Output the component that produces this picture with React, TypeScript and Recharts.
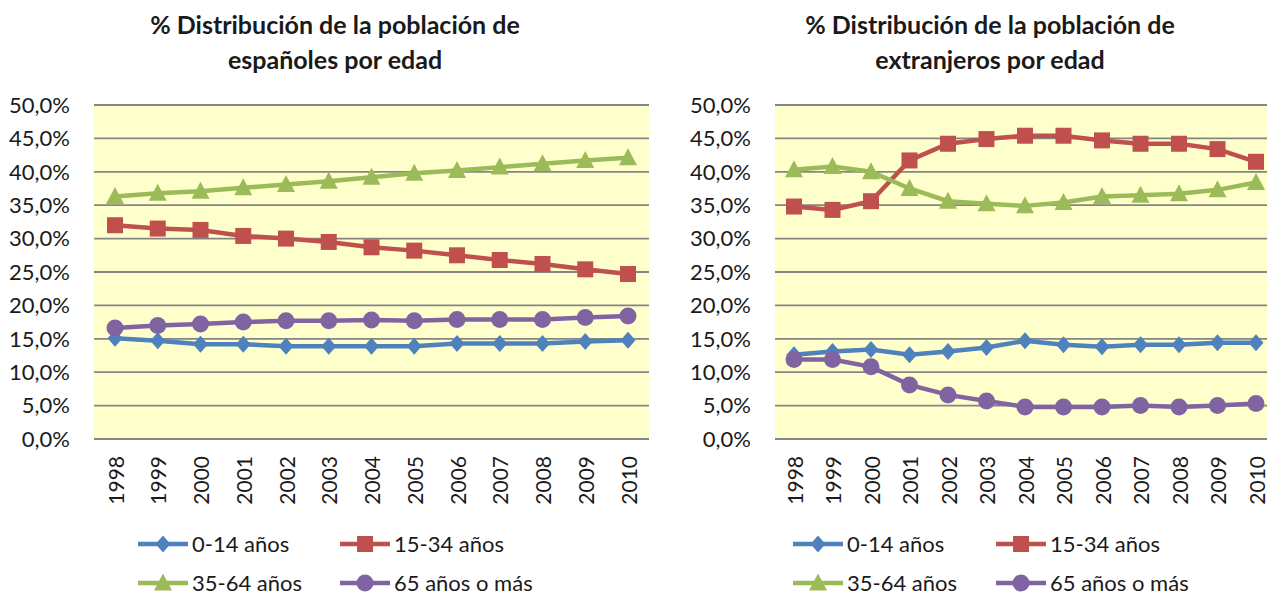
import { LineChart, Line, XAxis, YAxis, CartesianGrid } from 'recharts';

const years = ['1998', '1999', '2000', '2001', '2002', '2003', '2004', '2005', '2006', '2007', '2008', '2009', '2010'];
const yTicks = [0, 5, 10, 15, 20, 25, 30, 35, 40, 45, 50];

// españoles
const esp0014 = [15.1, 14.7, 14.2, 14.2, 13.9, 13.9, 13.9, 13.9, 14.3, 14.3, 14.3, 14.6, 14.8];
const esp1534 = [32.0, 31.5, 31.3, 30.4, 30.0, 29.5, 28.7, 28.2, 27.5, 26.8, 26.2, 25.4, 24.7];
const esp3564 = [36.3, 36.8, 37.1, 37.6, 38.1, 38.6, 39.2, 39.8, 40.2, 40.7, 41.2, 41.7, 42.1];
const esp65 = [16.6, 17.0, 17.2, 17.5, 17.7, 17.7, 17.8, 17.7, 17.9, 17.9, 17.9, 18.2, 18.4];

// extranjeros
const ext0014 = [12.6, 13.1, 13.4, 12.6, 13.1, 13.7, 14.7, 14.1, 13.8, 14.1, 14.1, 14.4, 14.4];
const ext1534 = [34.8, 34.3, 35.6, 41.7, 44.2, 44.9, 45.4, 45.4, 44.7, 44.2, 44.2, 43.4, 41.5];
const ext3564 = [40.3, 40.8, 40.0, 37.5, 35.6, 35.2, 34.9, 35.4, 36.3, 36.5, 36.7, 37.3, 38.4];
const ext65 = [11.9, 11.9, 10.8, 8.1, 6.6, 5.7, 4.8, 4.8, 4.8, 5.0, 4.8, 5.0, 5.3];

const seriesNames = ['0-14 años', '15-34 años', '35-64 años', '65 años o más'];
const seriesColors = ['#4F81BD', '#C0504D', '#9BBB59', '#8064A2'];
const seriesShapes = ['diamond', 'square', 'triangle', 'circle'];

const FONT = 'Lato, "Noto Sans", sans-serif';
const TEXT = '#1a1a1a';

const buildRows = (cols: number[][]) =>
  years.map((year, i) => ({ year, s0: cols[0][i], s1: cols[1][i], s2: cols[2][i], s3: cols[3][i] }));

const espRows = buildRows([esp0014, esp1534, esp3564, esp65]);
const extRows = buildRows([ext0014, ext1534, ext3564, ext65]);

function Marker({ cx, cy, shape, color }: { cx: number; cy: number; shape: string; color: string }) {
  if (shape === 'diamond') {
    return <polygon points={`${cx},${cy - 8.5} ${cx + 7.5},${cy} ${cx},${cy + 8.5} ${cx - 7.5},${cy}`} fill={color} />;
  }
  if (shape === 'square') {
    return <rect x={cx - 8} y={cy - 8} width={16} height={16} fill={color} />;
  }
  if (shape === 'triangle') {
    return <polygon points={`${cx},${cy - 9.5} ${cx + 9},${cy + 7.5} ${cx - 9},${cy + 7.5}`} fill={color} />;
  }
  return <circle cx={cx} cy={cy} r={8.5} fill={color} />;
}

function YearTick({ x, y, payload }: any) {
  return (
    <text
      transform={`translate(${x},${y + 17}) rotate(-90)`}
      textAnchor="end"
      dominantBaseline="central"
      fontFamily={FONT}
      fontSize={21}
      fill={TEXT}
    >
      {payload.value}
    </text>
  );
}

const pct = (v: number) => `${v.toFixed(1).replace('.', ',')}%`;

function LegendBox({ left, col2 }: { left: number; col2: number }) {
  const rows = [[0, 1], [2, 3]];
  const rowHeights = [42, 35];
  return (
    <div style={{ position: 'absolute', left, top: 523, fontFamily: FONT, fontSize: 22, lineHeight: '22px', color: TEXT }}>
      {rows.map((row, r) => (
        <div key={r} style={{ display: 'flex', height: rowHeights[r], alignItems: 'center' }}>
          {row.map((idx, c) => (
            <div key={idx} style={{ display: 'flex', alignItems: 'center', width: c === 0 ? col2 : undefined }}>
              <svg width={50} height={22} style={{ marginRight: 4 }}>
                <line x1={0} y1={11} x2={50} y2={11} stroke={seriesColors[idx]} strokeWidth={4.5} />
                <Marker cx={25} cy={11} shape={seriesShapes[idx]} color={seriesColors[idx]} />
              </svg>
              <span>{seriesNames[idx]}</span>
            </div>
          ))}
        </div>
      ))}
    </div>
  );
}

function Panel({ rows, width, axisWidth, right, pad }: { rows: any[]; width: number; axisWidth: number; right: number; pad: number }) {
  return (
    <LineChart width={width} height={597} data={rows} margin={{ top: 105, right, bottom: 0, left: 0 }}>
      <CartesianGrid horizontal vertical={false} fill="#FFFFCC" fillOpacity={1} stroke="#858585" strokeWidth={1.8} />
      <XAxis
        dataKey="year"
        height={158}
        axisLine={false}
        tickLine={false}
        tickSize={0}
        tickMargin={0}
        tick={<YearTick />}
        interval={0}
        padding={{ left: pad, right: pad }}
      />
      <YAxis
        domain={[0, 50]}
        ticks={yTicks}
        width={axisWidth}
        axisLine={false}
        tickLine={false}
        tickSize={0}
        tickMargin={24}
        tickFormatter={pct}
        tick={{ fontFamily: FONT, fontSize: 22, fill: TEXT }}
      />
      {seriesNames.map((name, i) => (
        <Line
          key={name}
          type="linear"
          dataKey={`s${i}`}
          name={name}
          stroke={seriesColors[i]}
          strokeWidth={4.5}
          isAnimationActive={false}
          dot={(p: any) => <Marker key={p.index} cx={p.cx} cy={p.cy} shape={seriesShapes[i]} color={seriesColors[i]} />}
          activeDot={false}
        />
      ))}
    </LineChart>
  );
}

function Title({ lines, center }: { lines: string[]; center: number }) {
  return (
    <div
      style={{
        position: 'absolute', left: center - 250, top: 7, width: 500, textAlign: 'center',
        fontFamily: FONT, fontWeight: 700, fontSize: 25, lineHeight: '35px', color: TEXT,
      }}
    >
      {lines.map((l) => <div key={l}>{l}</div>)}
    </div>
  );
}

export default function App() {
  return (
    <div style={{ position: 'absolute', left: 0, top: 0, width: 1267, height: 597, overflow: 'hidden', background: '#fff' }}>
      <div style={{ position: 'absolute', left: 0, top: 0 }}>
        <Panel rows={espRows} width={680} axisWidth={94} right={31} pad={21} />
      </div>
      <div style={{ position: 'absolute', left: 680, top: 0 }}>
        <Panel rows={extRows} width={610} axisWidth={95} right={15} pad={19} />
      </div>
      <Title lines={['% Distribución de la población de', 'españoles por edad']} center={335} />
      <Title lines={['% Distribución de la población de', 'extranjeros por edad']} center={990} />
      <LegendBox left={138} col2={202} />
      <LegendBox left={793} col2={203} />
    </div>
  );
}
